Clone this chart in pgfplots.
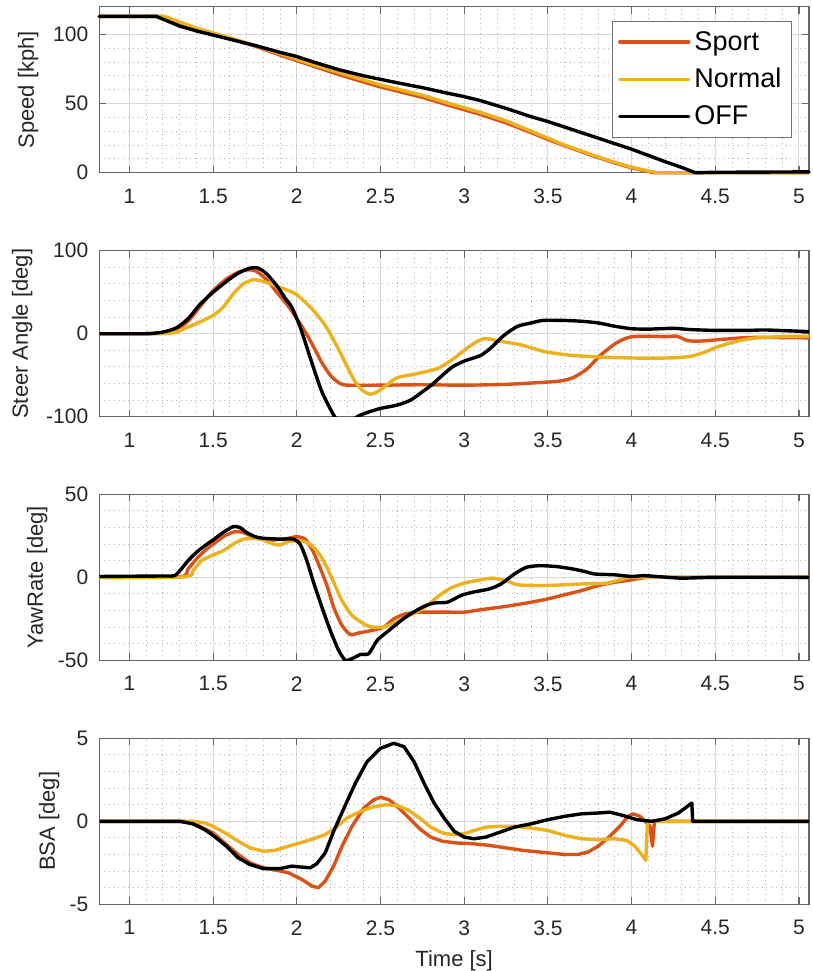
\documentclass[border=0pt]{standalone}
\usepackage{fontspec}
\setmainfont{Liberation Sans}
\usepackage{pgfplots}
\pgfplotsset{compat=1.18}

\definecolor{sport}{RGB}{217,83,25}
\definecolor{normal}{RGB}{237,177,32}
\definecolor{axgray}{RGB}{38,38,38}

\pgfplotsset{
  panel/.style={
    scale only axis, width=354.85pt, height=83pt, anchor=north west,
    xmin=0.82, xmax=5.06,
    xtick={1,1.5,...,5},
    minor x tick num=4, minor y tick num=4,
    grid=both,
    major grid style={black!15, line width=0.5pt},
    minor grid style={black!30, dotted, line width=0.45pt},
    tick align=inside, major tick length=3.5pt, minor tick length=0pt,
    axis line style={black!60, line width=0.6pt},
    major tick style={black!60, line width=0.6pt},
    /pgf/number format/assume math mode=true,
    ticklabel style={font=\fontsize{10.5}{12}\selectfont, text=axgray},
    xticklabel style={yshift=-4.5pt},
    yticklabel style={xshift=-2pt},
    label style={font=\fontsize{11}{13}\selectfont, text=axgray},
    every axis plot/.append style={line width=1.7pt, line join=round, line cap=round},
  },
  % the label is rotated, so its own y direction points to the left
  ylab/.style={ylabel style={at={(axis description cs:0,0.5)}, anchor=center, yshift=#1}},
}

\begin{document}
\begin{tikzpicture}
\useasboundingbox (0pt,0pt) rectangle (406.5pt,-485.5pt);

% ---------------- Speed ----------------
\begin{axis}[panel, at={(49.65pt,-3.35pt)},
  ymin=0, ymax=120, ytick={0,50,100},
  ylabel={Speed [kph]}, ylab=35.6pt, clip=false,
  legend style={at={(rel axis cs:1,1)}, anchor=north east, xshift=-8.5pt, yshift=-7pt,
    draw=black!55, line width=0.5pt, fill=white,
    font=\fontsize{13.5}{15}\selectfont, inner xsep=3pt, inner ysep=3pt,
    row sep=3.5pt, cells={anchor=west}},
  legend image code/.code={\draw[#1, line width=1.7pt] (0pt,0pt) -- (34.5pt,0pt);},
]
\addplot[sport] coordinates {
(0.82,113)(1.19,113)(1.25,110.5)(1.3,108)(1.4,104)(1.5,100.5)(1.6,97)(1.75,91.5)
(1.9,85)(2,81)(2.1,77)(2.25,71)(2.4,65.5)(2.5,62)(2.6,59)(2.75,54.5)(2.9,49)
(3,45.5)(3.1,42)(3.25,36)(3.4,29)(3.5,24)(3.6,19.5)(3.75,13)(3.9,7)(4,3.5)
(4.1,0.8)(4.13,0)(5.06,0)};
\addplot[normal] coordinates {
(0.82,113)(1.21,113)(1.3,109)(1.4,104.5)(1.5,101)(1.6,97.5)(1.75,92)(1.9,86)
(2,82)(2.1,78)(2.25,72.5)(2.4,67)(2.5,63.5)(2.6,60.5)(2.75,56)(2.9,50.5)(3,47)
(3.1,43.5)(3.25,37.5)(3.4,30)(3.5,25)(3.6,20)(3.75,13.5)(3.9,7.5)(4,4)(4.1,1.2)
(4.16,0)(5.06,0)};
\addplot[black] coordinates {
(0.82,113)(1.16,113)(1.2,111)(1.3,106)(1.4,102.5)(1.5,99.5)(1.6,96.5)(1.75,92)
(1.9,87)(2,84)(2.1,80)(2.25,74.5)(2.4,70)(2.5,67.5)(2.6,65)(2.75,61.5)(2.9,57.5)
(3,55)(3.1,52)(3.25,46.5)(3.4,40.5)(3.5,37)(3.6,33)(3.75,27)(3.9,21)(4,17)
(4.1,12.5)(4.2,8)(4.3,3.8)(4.38,0)(4.5,0.3)(5.06,0.6)};
\legend{Sport, Normal, OFF}
\end{axis}

% ---------------- Steer angle ----------------
\begin{axis}[panel, at={(49.65pt,-125.35pt)},
  ymin=-100, ymax=100, ytick={-100,0,100},
  ylabel={Steer Angle [deg]}, ylab=38.6pt,
]
\addplot[sport, smooth, tension=0.4] coordinates {
(0.82,0)(1.1,0)(1.2,1)(1.28,5)(1.35,15)(1.42,32)(1.5,52)(1.58,66)(1.65,74)
(1.71,77)(1.76,75)(1.82,65)(1.88,50)(1.95,33)(2.03,9)(2.09,-12)(2.15,-35)
(2.2,-50)(2.25,-59)(2.3,-62)(2.5,-62)(2.75,-61.5)(3,-62)(3.25,-61)(3.52,-58)
(3.6,-56)(3.66,-52)(3.73,-43)(3.82,-25)(3.91,-11)(3.99,-4)(4.1,-3)(4.2,-3.5)
(4.27,-3)(4.33,-8)(4.4,-9)(4.56,-6.5)(4.72,-4.5)(5.06,-5)};
\addplot[normal, smooth, tension=0.4] coordinates {
(0.82,0)(1.2,0)(1.28,2)(1.35,8)(1.42,14)(1.5,22)(1.56,32)(1.62,48)(1.68,60)
(1.74,65)(1.8,63)(1.88,57)(1.95,52)(2,47)(2.09,30)(2.17,10)(2.25,-19)(2.34,-55)
(2.39,-68)(2.44,-73)(2.48,-70)(2.53,-63)(2.6,-53)(2.72,-48)(2.84,-42)(2.93,-31)
(3.02,-17)(3.08,-9)(3.12,-6)(3.17,-7)(3.21,-9)(3.33,-13)(3.49,-22)(3.64,-26)
(3.8,-28)(3.95,-29)(4.1,-29.5)(4.26,-29)(4.36,-27)(4.44,-22)(4.51,-16)
(4.63,-9)(4.75,-5)(4.9,-3.5)(5.06,-3)};
\addplot[black, smooth, tension=0.4] coordinates {
(0.82,0)(1.1,0)(1.2,2)(1.28,7)(1.35,18)(1.42,35)(1.5,50)(1.58,63)(1.65,73)
(1.72,79)(1.77,79)(1.82,72)(1.88,58)(1.93,43)(1.97,32)(2.02,8)(2.09,-35)
(2.15,-70)(2.22,-98)(2.26,-108)(2.3,-110)(2.34,-103)(2.37,-99)(2.42,-95)
(2.5,-90)(2.6,-86)(2.68,-80)(2.75,-70)(2.81,-61)(2.87,-50)(2.93,-40)(3.0,-33)
(3.1,-26)(3.16,-17)(3.2,-9)(3.25,0)(3.32,9)(3.4,13)(3.47,16)(3.6,16)(3.7,15)
(3.8,13)(3.9,9)(4,6)(4.1,5.5)(4.25,6.5)(4.35,5)(4.5,4)(4.7,4)(4.8,4.5)(5.06,2.5)};
\end{axis}

% ---------------- Yaw rate ----------------
\begin{axis}[panel, at={(49.65pt,-247.15pt)},
  ymin=-50, ymax=50, ytick={-50,0,50},
  ylabel={YawRate [deg]}, ylab=31.1pt,
]
\addplot[sport, smooth, tension=0.4] coordinates {
(0.82,0)(1.3,0.3)(1.35,5)(1.4,11)(1.45,16)(1.5,20)(1.57,25)(1.63,27.5)(1.68,27)
(1.75,24)(1.85,22.5)(1.95,23.5)(2.0,24.5)(2.05,23)(2.09,17)(2.13,8)(2.18,-5)
(2.22,-18)(2.27,-29)(2.32,-34.5)(2.37,-33.5)(2.45,-32)(2.52,-30)(2.58,-25)
(2.65,-22)(2.75,-21)(2.9,-21)(3.0,-21)(3.1,-19.5)(3.25,-17.5)(3.4,-15)(3.5,-13)
(3.6,-10.5)(3.7,-8)(3.8,-5)(3.9,-3)(4.0,-1.5)(4.1,0)(4.3,0)(5.06,0)};
\addplot[normal, smooth, tension=0.4] coordinates {
(0.82,0)(1.33,0.3)(1.38,4)(1.43,10)(1.5,13.5)(1.56,16)(1.62,20)(1.68,23)
(1.74,23.5)(1.8,22.5)(1.86,20)(1.9,19.5)(1.95,21.5)(2.02,22)(2.07,20.5)(2.12,16)
(2.17,8)(2.22,-3)(2.27,-14)(2.33,-23)(2.4,-28)(2.45,-30)(2.52,-30)(2.58,-27.5)
(2.65,-24)(2.75,-19)(2.85,-11)(2.92,-6.5)(3.0,-3.5)(3.1,-1.5)(3.17,-0.5)
(3.25,-2)(3.32,-4.5)(3.45,-5)(3.6,-4.5)(3.7,-4)(3.85,-3.5)(3.95,-1)(4.05,0)(5.06,0)};
\addplot[black, smooth, tension=0.4] coordinates {
(0.82,0.5)(1.2,0.8)(1.27,1)(1.31,5)(1.35,10)(1.4,15)(1.45,19)(1.5,22.5)(1.56,27)
(1.62,30.5)(1.66,30)(1.7,27)(1.75,24.5)(1.8,23.5)(1.9,23)(1.98,23)(2.02,20)
(2.06,10)(2.1,-3)(2.15,-18)(2.2,-32)(2.25,-44)(2.29,-50)(2.33,-49)(2.38,-46.5)
(2.43,-46)(2.48,-38)(2.55,-32)(2.65,-24)(2.75,-18)(2.82,-15.5)(2.9,-15)(2.98,-11)
(3.05,-9)(3.15,-7)(3.22,-4)(3.3,2)(3.37,6)(3.45,7)(3.55,6.5)(3.65,5)(3.72,3.5)
(3.78,2)(3.9,1.5)(4,0.5)(4.07,1)(4.15,0.5)(4.3,-0.5)(4.5,0)(5.06,0)};
\end{axis}

% ---------------- Body slip angle ----------------
\begin{axis}[panel, at={(49.65pt,-369.15pt)},
  ymin=-5, ymax=5, ytick={-5,0,5},
  ylabel={BSA [deg]}, ylab=25.1pt,
  xlabel={Time [s]},
  xlabel style={at={(axis description cs:0.5,0)}, anchor=center, yshift=-28pt},
]
\addplot[sport] coordinates {
(0.82,0)(1.33,0)(1.4,-0.2)(1.5,-0.7)(1.58,-1.4)(1.65,-2.0)(1.72,-2.5)(1.8,-2.8)
(1.88,-2.95)(1.95,-3.1)(2.03,-3.5)(2.09,-3.9)(2.13,-4.0)(2.17,-3.6)(2.22,-2.7)
(2.27,-1.5)(2.33,-0.3)(2.4,0.8)(2.46,1.3)(2.5,1.45)(2.55,1.3)(2.6,0.9)(2.67,0.2)
(2.74,-0.5)(2.8,-0.95)(2.87,-1.2)(2.95,-1.3)(3.05,-1.35)(3.15,-1.45)(3.25,-1.6)
(3.35,-1.75)(3.5,-1.9)(3.6,-2.0)(3.68,-2.0)(3.74,-1.85)(3.8,-1.5)(3.87,-0.9)
(3.93,-0.3)(3.98,0.3)(4.01,0.45)(4.05,0.3)(4.09,-0.1)(4.11,-0.3)(4.125,-1.5)
(4.135,-0.2)(4.14,0)(5.06,0)};
\addplot[normal] coordinates {
(0.82,0)(1.38,0)(1.45,-0.1)(1.5,-0.3)(1.58,-0.75)(1.65,-1.2)(1.72,-1.6)(1.8,-1.8)
(1.87,-1.75)(1.95,-1.5)(2.02,-1.3)(2.1,-1.05)(2.17,-0.8)(2.23,-0.4)(2.3,0.2)
(2.38,0.6)(2.45,0.85)(2.53,1.0)(2.6,0.95)(2.67,0.65)(2.74,0.15)(2.8,-0.35)
(2.87,-0.7)(2.93,-0.8)(3.0,-0.75)(3.06,-0.55)(3.13,-0.35)(3.2,-0.3)(3.3,-0.3)
(3.4,-0.4)(3.5,-0.55)(3.6,-0.85)(3.7,-1.05)(3.8,-1.1)(3.9,-1.05)(3.97,-1.15)
(4.02,-1.5)(4.06,-2.0)(4.085,-2.35)(4.095,0)(5.06,0)};
\addplot[black] coordinates {
(0.82,0)(1.3,0)(1.38,-0.15)(1.45,-0.5)(1.5,-0.85)(1.58,-1.5)(1.65,-2.2)
(1.72,-2.6)(1.8,-2.85)(1.9,-2.85)(1.97,-2.7)(2.02,-2.75)(2.08,-2.8)(2.12,-2.55)
(2.17,-1.9)(2.22,-0.6)(2.26,0.3)(2.3,1.2)(2.35,2.3)(2.42,3.6)(2.5,4.4)(2.58,4.7)
(2.64,4.5)(2.7,3.6)(2.76,2.3)(2.82,1.1)(2.88,0.2)(2.94,-0.6)(3.0,-0.95)
(3.06,-1.05)(3.13,-0.95)(3.2,-0.7)(3.3,-0.35)(3.4,-0.15)(3.5,0.1)(3.6,0.3)
(3.7,0.45)(3.8,0.5)(3.87,0.55)(3.95,0.35)(4.03,0.1)(4.12,0)(4.2,0.15)(4.28,0.5)
(4.36,1.1)(4.365,0)(5.06,0)};
\end{axis}
\end{tikzpicture}
\end{document}
